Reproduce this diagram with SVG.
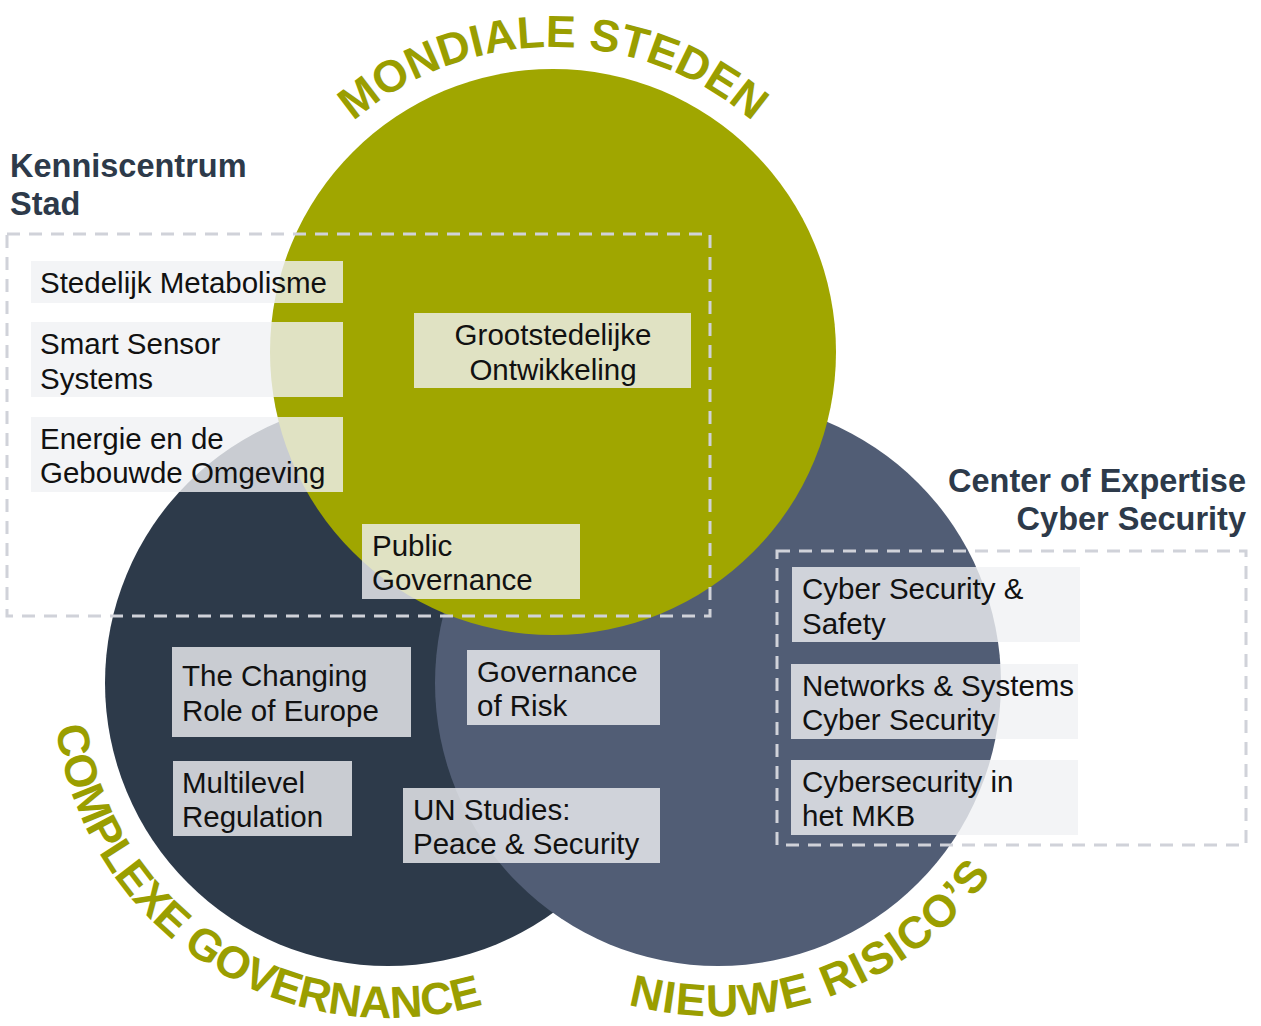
<svg xmlns="http://www.w3.org/2000/svg" width="1261" height="1026" viewBox="0 0 1261 1026">
<style>
.lbl{font-family:"Liberation Sans",Arial,sans-serif;font-size:29.5px;fill:#111}
.hd{font-family:"Liberation Sans",Arial,sans-serif;font-size:32.5px;font-weight:bold;fill:#2d3a4a}
.arc{font-family:"Liberation Sans",Arial,sans-serif;font-size:45px;font-weight:bold;fill:#9a9e00}
.box{fill:#f0f1f4;fill-opacity:0.8}
.dash{fill:none;stroke:#d0d2d9;stroke-width:3;stroke-dasharray:13 9}
</style>
<defs>
<path id="pMon" d="M288.9,199.5 A305,305 0 0 1 817.1,199.5"/>
<path id="pCom" d="M53.5,665.5 A335,335 0 0 0 540.1,981.5"/>
<path id="pNie" d="M507.2,943.3 A337,337 0 0 0 1048.9,735.4"/>
</defs>
<rect width="1261" height="1026" fill="#ffffff"/>
<g id="circle-complexe"><circle cx="388" cy="683" r="283" fill="#2d3a4a"/></g>
<g id="circle-nieuwe"><circle cx="718" cy="683" r="283" fill="#515d75"/></g>
<g id="circle-mondiale"><circle cx="553" cy="352" r="283" fill="#a0a600"/></g>
<g id="arc-labels">
<text class="arc"><textPath href="#pMon" startOffset="50%" text-anchor="middle">MONDIALE STEDEN</textPath></text>
<text class="arc" letter-spacing="-0.5"><textPath href="#pCom" startOffset="50%" text-anchor="middle">COMPLEXE GOVERNANCE</textPath></text>
<text class="arc" letter-spacing="1.5"><textPath href="#pNie" startOffset="49%" text-anchor="middle">NIEUWE RISICO’S</textPath></text>
</g>
<g id="group-kenniscentrum">
<rect class="dash" x="7" y="234" width="703" height="382"/>
<text class="hd" x="10" y="177">Kenniscentrum</text>
<text class="hd" x="10" y="215">Stad</text>
</g>
<g id="group-cyber">
<rect class="dash" x="777" y="551" width="469" height="294"/>
<text class="hd" x="1246" y="492" text-anchor="end">Center of Expertise</text>
<text class="hd" x="1246" y="530" text-anchor="end">Cyber Security</text>
</g>
<g id="n-stedelijk"><rect class="box" x="31" y="261" width="312" height="42"/><text class="lbl" x="40" y="293">Stedelijk Metabolisme</text></g>
<g id="n-smart"><rect class="box" x="31" y="322" width="312" height="75"/><text class="lbl" x="40" y="354">Smart Sensor</text><text class="lbl" x="40" y="389">Systems</text></g>
<g id="n-energie"><rect class="box" x="31" y="417" width="312" height="75"/><text class="lbl" x="40" y="449">Energie en de</text><text class="lbl" x="40" y="483">Gebouwde Omgeving</text></g>
<g id="n-grootstedelijk"><rect class="box" x="414" y="313" width="277" height="75"/><text class="lbl" x="553" y="345" text-anchor="middle">Grootstedelijke</text><text class="lbl" x="553" y="380" text-anchor="middle">Ontwikkeling</text></g>
<g id="n-public"><rect class="box" x="362" y="524" width="218" height="75"/><text class="lbl" x="372" y="556">Public</text><text class="lbl" x="372" y="590">Governance</text></g>
<g id="n-europe"><rect class="box" x="172" y="647" width="239" height="90"/><text class="lbl" x="182" y="686">The Changing</text><text class="lbl" x="182" y="721">Role of Europe</text></g>
<g id="n-multilevel"><rect class="box" x="173" y="761" width="179" height="75"/><text class="lbl" x="182" y="793">Multilevel</text><text class="lbl" x="182" y="827">Regulation</text></g>
<g id="n-risk"><rect class="box" x="467" y="650" width="193" height="75"/><text class="lbl" x="477" y="682">Governance</text><text class="lbl" x="477" y="716">of Risk</text></g>
<g id="n-un"><rect class="box" x="403" y="788" width="257" height="75"/><text class="lbl" x="413" y="820">UN Studies:</text><text class="lbl" x="413" y="854">Peace &amp; Security</text></g>
<g id="n-safety"><rect class="box" x="792" y="567" width="288" height="75"/><text class="lbl" x="802" y="599">Cyber Security &amp;</text><text class="lbl" x="802" y="634">Safety</text></g>
<g id="n-networks"><rect class="box" x="791" y="664" width="287" height="75"/><text class="lbl" x="802" y="696">Networks &amp; Systems</text><text class="lbl" x="802" y="730">Cyber Security</text></g>
<g id="n-mkb"><rect class="box" x="791" y="760" width="287" height="75"/><text class="lbl" x="802" y="792">Cybersecurity in</text><text class="lbl" x="802" y="826">het MKB</text></g>
<g id="connectors"></g>
</svg>
